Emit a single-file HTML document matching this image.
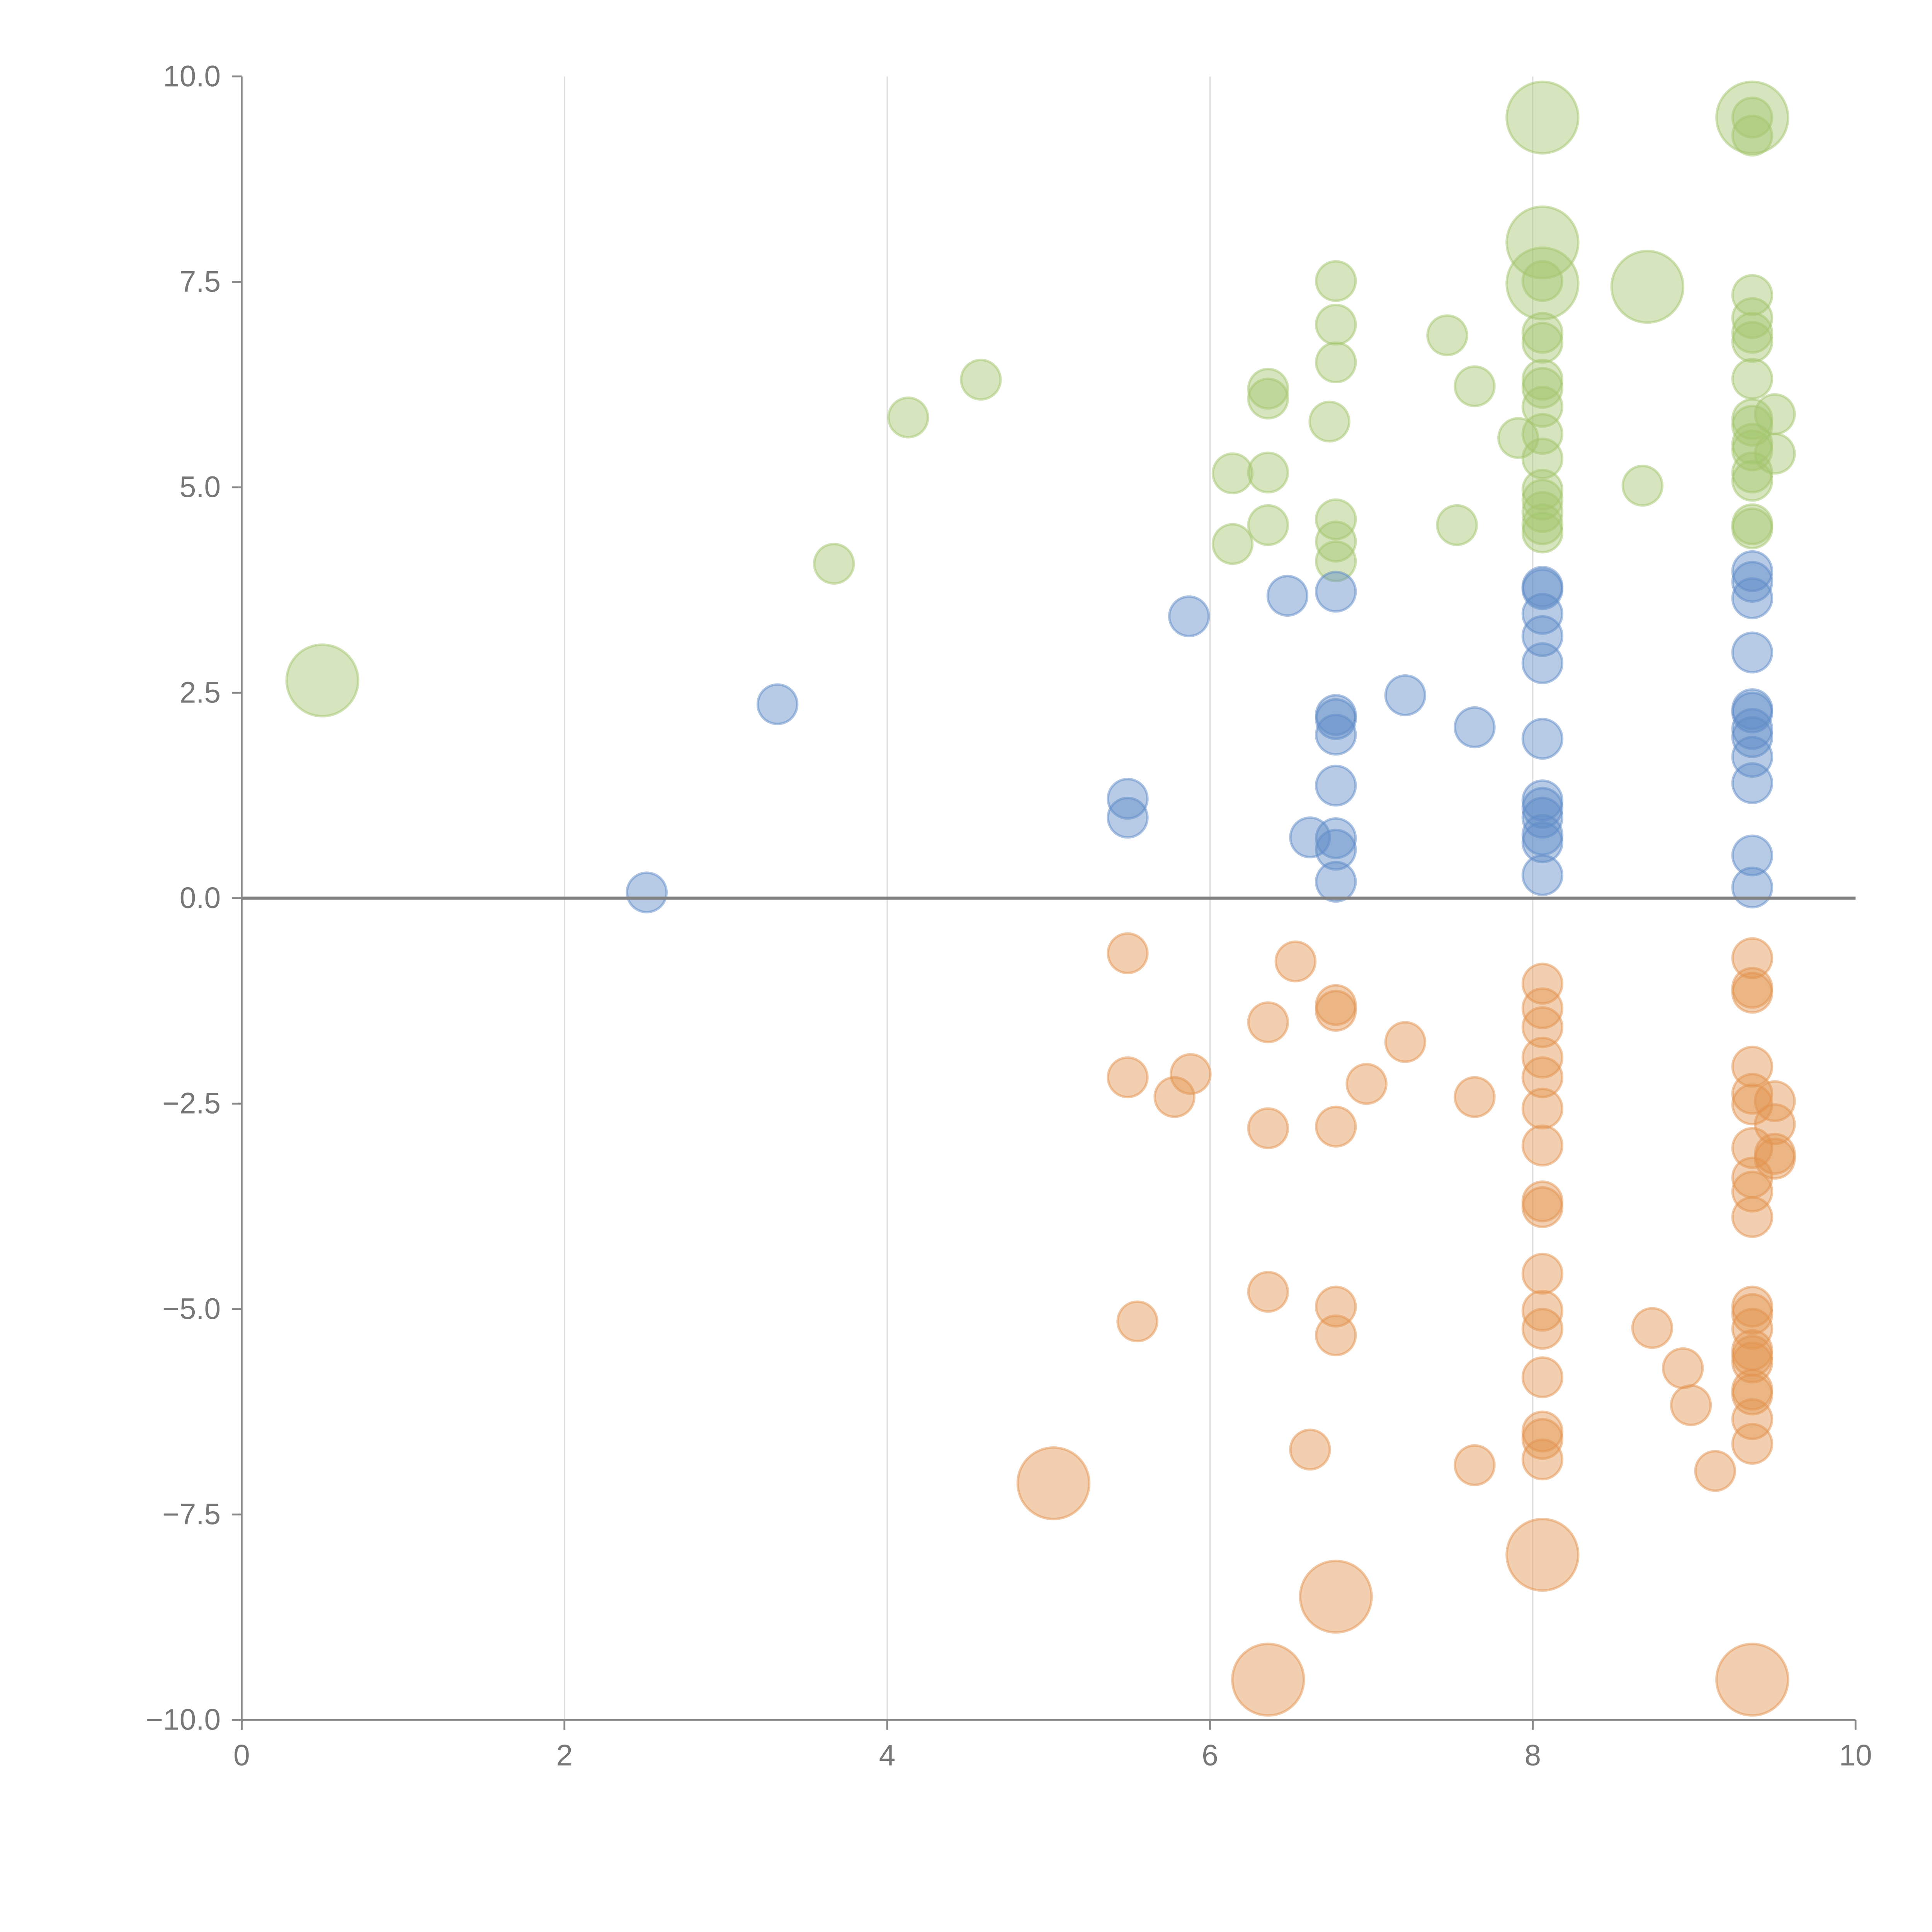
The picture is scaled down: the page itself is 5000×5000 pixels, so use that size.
<!DOCTYPE html>
<html><head><meta charset="utf-8"><style>
html,body{margin:0;padding:0;background:#fff;}
svg{display:block;}
text{font-family:"Liberation Sans",Arial,sans-serif;fill:#777;}
</style></head><body>
<svg id="chart" width="5000" height="5000" viewBox="0 0 1567 1567" xmlns="http://www.w3.org/2000/svg">
<g id="grid"></g>
<g id="axes"></g>
<g id="marks"></g>
</svg>
<script>
const xTicks=[0,2,4,6,8,10];
const yTicks=[10,7.5,5,2.5,0,-2.5,-5,-7.5,-10];
const yTickLabels=["10.0","7.5","5.0","2.5","0.0","\u22122.5","\u22125.0","\u22127.5","\u221210.0"];

const greenX=[0.50,3.67,4.13,4.58,6.14,6.14,6.36,6.36,6.36,6.36,6.74,6.78,6.78,6.78,6.78,6.78,6.78,7.47,7.64,7.53,7.91,8.06,8.06,8.06,8.06,8.06,8.06,8.06,8.06,8.06,8.06,8.06,8.06,8.06,8.06,8.06,8.06,8.71,8.68,9.36,9.36,9.36,9.36,9.36,9.36,9.36,9.36,9.36,9.36,9.36,9.36,9.36,9.36,9.36,9.36,9.50,9.50];
const greenY=[2.65,4.07,5.85,6.31,5.17,4.31,6.20,6.08,5.18,4.54,5.80,7.51,6.98,6.52,4.61,4.34,4.10,6.85,6.23,4.54,5.60,9.50,7.98,7.48,7.51,6.88,6.76,6.31,6.21,5.98,5.65,5.35,4.97,4.85,4.70,4.55,4.45,7.44,5.02,9.50,9.50,9.28,7.34,7.06,6.88,6.77,6.32,5.83,5.75,5.53,5.45,5.18,5.08,4.55,4.50,5.89,5.41];
const greenBig=[1,0,0,0,0,0,0,0,0,0,0,0,0,0,0,0,0,0,0,0,0,1,1,1,0,0,0,0,0,0,0,0,0,0,0,0,0,1,0,1,0,0,0,0,0,0,0,0,0,0,0,0,0,0,0,0,0];

const blueX=[2.51,3.32,5.49,5.49,5.87,6.48,6.62,6.78,6.78,6.78,6.78,6.78,6.78,6.78,6.78,7.21,7.64,8.06,8.06,8.06,8.06,8.06,8.06,8.06,8.06,8.06,8.06,8.06,8.06,9.36,9.36,9.36,9.36,9.36,9.36,9.36,9.36,9.36,9.36,9.36,9.36];
const blueY=[0.07,2.36,1.21,0.98,3.43,3.68,0.74,3.73,2.23,2.18,1.99,1.37,0.73,0.59,0.20,2.47,2.08,3.79,3.76,3.46,3.19,2.86,1.94,1.19,1.10,0.98,0.77,0.68,0.28,3.98,3.85,3.65,2.99,2.30,2.26,2.06,1.96,1.72,1.40,0.52,0.13];

const orangeX=[5.49,5.49,5.55,5.78,5.88,5.03,6.36,6.36,6.36,6.36,6.53,6.62,6.78,6.78,6.78,6.78,6.78,6.78,6.97,7.21,7.64,7.64,8.06,8.06,8.06,8.06,8.06,8.06,8.06,8.06,8.06,8.06,8.06,8.06,8.06,8.06,8.06,8.06,8.06,8.74,8.93,8.98,9.13,9.36,9.36,9.36,9.36,9.36,9.36,9.36,9.36,9.36,9.36,9.36,9.36,9.36,9.36,9.36,9.36,9.36,9.36,9.36,9.36,9.36,9.50,9.50,9.50,9.50];
const orangeY=[-0.67,-2.18,-5.15,-2.42,-2.14,-7.12,-1.51,-2.80,-4.79,-9.51,-0.77,-6.71,-1.30,-1.37,-2.78,-4.97,-5.32,-8.50,-2.26,-1.75,-2.42,-6.90,-1.04,-1.34,-1.57,-1.94,-2.18,-2.56,-3.01,-3.69,-3.76,-4.57,-5.02,-5.24,-5.83,-6.49,-6.58,-6.83,-7.99,-5.23,-5.72,-6.17,-6.97,-0.73,-1.09,-1.15,-2.05,-2.38,-2.51,-3.04,-3.40,-3.57,-3.88,-4.97,-5.06,-5.24,-5.50,-5.57,-5.65,-5.98,-6.04,-6.34,-6.64,-9.51,-2.47,-2.75,-3.11,-3.17];
const orangeBig=[0,0,0,0,0,1,0,0,0,1,0,0,0,0,0,0,0,1,0,0,0,0,0,0,0,0,0,0,0,0,0,0,0,0,0,0,0,0,1,0,0,0,0,0,0,0,0,0,0,0,0,0,0,0,0,0,0,0,0,0,0,0,0,1,0,0,0,0];

const NS="http://www.w3.org/2000/svg";
const X0=196,X1=1505,Y0=1395,Y1=62;
function sx(v){return X0+(v-0)/(10-0)*(X1-X0);}
function sy(v){return Y0-(v+10)/20*(Y0-Y1);}
function mk(tag,attrs,parent){const e=document.createElementNS(NS,tag);for(const k in attrs)e.setAttribute(k,attrs[k]);parent.appendChild(e);return e;}

const grid=document.getElementById('grid'),axes=document.getElementById('axes'),marks=document.getElementById('marks');
[2,4,6,8].forEach(v=>{
  const l=mk('line',{x1:sx(v),x2:sx(v),y1:Y1,y2:Y0,stroke:'#ddd','stroke-width':1},grid);
  
  
});
let a=mk('line',{x1:X0,x2:X0,y1:Y1,y2:Y0+8,stroke:'#888','stroke-width':1.5},axes);


a=mk('line',{x1:X0-8,x2:X1,y1:Y0,y2:Y0,stroke:'#888','stroke-width':1.5},axes);


xTicks.forEach(v=>{
  const t=mk('line',{x1:sx(v),x2:sx(v),y1:Y0,y2:Y0+8,stroke:'#888','stroke-width':1.5},axes);
  
  
  const tx=mk('text',{x:sx(v),y:Y0+37,'text-anchor':'middle','font-size':24},axes);
  tx.textContent=String(v);
  
  
});
yTicks.forEach((v,i)=>{
  const t=mk('line',{x1:X0-8,x2:X0,y1:sy(v),y2:sy(v),stroke:'#888','stroke-width':1.5},axes);
  
  
  const tx=mk('text',{x:X0-17,y:sy(v)+8,'text-anchor':'end','font-size':24},axes);
  tx.textContent=yTickLabels[i];
  
  
});
function series(xs,ys,big,color,name){
  xs.forEach((x,i)=>{
    const r=(big&&big[i])?29:16;
    const c=mk('circle',{cx:sx(x),cy:sy(ys[i]),r:r,fill:color,'fill-opacity':0.45,stroke:color,'stroke-opacity':0.5,'stroke-width':2},marks);
    
    
  });
}
series(greenX,greenY,greenBig,'#a4c66e','green-point');
series(blueX,blueY,null,'#5f8cc8','blue-point');
series(orangeX,orangeY,orangeBig,'#e3944f','orange-point');
const z=mk('line',{x1:X0,x2:X1,y1:sy(0),y2:sy(0),stroke:'#808080','stroke-width':2.5},axes.parentNode);


</script>
</body></html>
